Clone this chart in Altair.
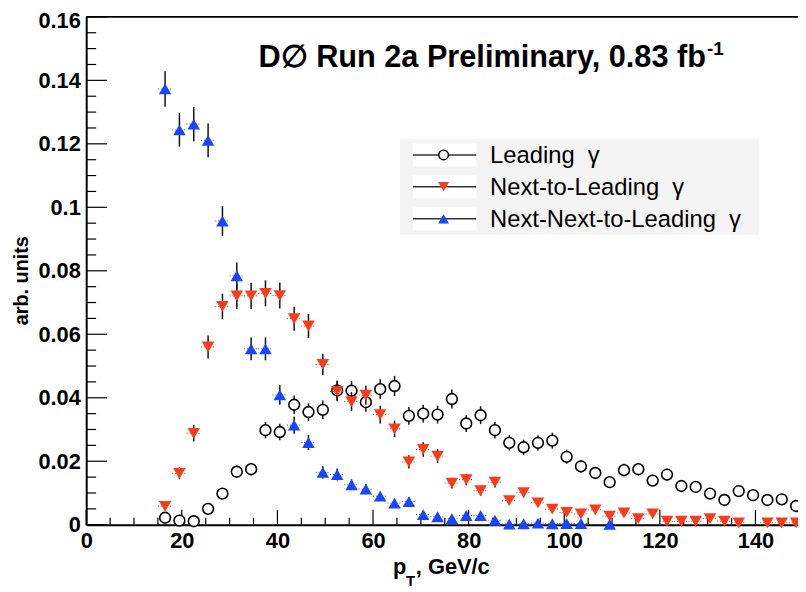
import altair as alt
import pandas as pd

# ---------------- data ----------------
pt = [16.5, 19.5, 22.5, 25.5, 28.5, 31.5, 34.5, 37.5, 40.5, 43.5, 46.5, 49.5,
      52.5, 55.5, 58.5, 61.5, 64.5, 67.5, 70.5, 73.5, 76.5, 79.5, 82.5, 85.5,
      88.5, 91.5, 94.5, 97.5, 100.5, 103.5, 106.5, 109.5, 112.5, 115.5, 118.5,
      121.5, 124.5, 127.5, 130.5, 133.5, 136.5, 139.5, 142.5, 145.5, 148.5]

lead = [0.0022, 0.0013, 0.0011, 0.0050, 0.0098, 0.0167, 0.0175, 0.0298, 0.0292,
        0.0378, 0.0355, 0.0362, 0.0423, 0.0422, 0.0386, 0.0427, 0.0437, 0.0343,
        0.0350, 0.0347, 0.0396, 0.0319, 0.0345, 0.0298, 0.0258, 0.0244, 0.0258,
        0.0265, 0.0214, 0.0184, 0.0163, 0.0134, 0.0172, 0.0175, 0.0139, 0.0158,
        0.0122, 0.0119, 0.0098, 0.0078, 0.0106, 0.0093, 0.0078, 0.0080, 0.0059]
lead_err = [0.0007, 0.0005, 0.0005, 0.0011, 0.0015, 0.0020, 0.0020, 0.0026, 0.0026,
            0.0029, 0.0028, 0.0029, 0.0031, 0.0031, 0.0030, 0.0031, 0.0032, 0.0028,
            0.0028, 0.0028, 0.0030, 0.0027, 0.0028, 0.0026, 0.0024, 0.0024, 0.0024,
            0.0025, 0.0022, 0.0020, 0.0019, 0.0017, 0.0020, 0.0020, 0.0018, 0.0019,
            0.0017, 0.0016, 0.0015, 0.0013, 0.0016, 0.0015, 0.0013, 0.0014, 0.0012]

nl = [0.0058, 0.0162, 0.0288, 0.0560, 0.0688, 0.0721, 0.0721, 0.0729, 0.0722,
      0.0649, 0.0626, 0.0505, 0.0420, 0.0388, 0.0408, 0.0347, 0.0302, 0.0198,
      0.0237, 0.0216, 0.0131, 0.0142, 0.0107, 0.0134, 0.0076, 0.0101, 0.0069,
      0.0049, 0.0039, 0.0034, 0.0047, 0.0027, 0.0037, 0.0019, 0.0034, 0.0011,
      0.0011, 0.0011, 0.0019, 0.0011, 0.0006, None, 0.0006, 0.0006, 0.0006]
nl_err = [0.0012, 0.0019, 0.0026, 0.0036, 0.0040, 0.0041, 0.0041, 0.0041, 0.0041,
          0.0038, 0.0038, 0.0034, 0.0031, 0.0030, 0.0030, 0.0028, 0.0026, 0.0021,
          0.0023, 0.0022, 0.0017, 0.0018, 0.0016, 0.0017, 0.0013, 0.0015, 0.0013,
          0.0011, 0.0009, 0.0009, 0.0010, 0.0008, 0.0009, 0.0007, 0.0009, 0.0005,
          0.0005, 0.0005, 0.0007, 0.0005, 0.0004, None, 0.0004, 0.0004, 0.0004]

nnl = [0.1373, 0.1244, 0.1262, 0.1211, 0.0957, 0.0784, 0.0554, 0.0554, 0.0409,
       0.0314, 0.0259, 0.0165, 0.0158, 0.0126, 0.0112, 0.0090, 0.0068, 0.0073,
       0.0032, 0.0025, 0.0019, 0.0029, 0.0029, 0.0014, 0.0002, 0.0003, 0.0005,
       0.0003, 0.0004, 0.0004, None, 0.0001]
nnl_err = [0.0056, 0.0053, 0.0054, 0.0053, 0.0047, 0.0042, 0.0036, 0.0036, 0.0031,
           0.0027, 0.0024, 0.0019, 0.0019, 0.0017, 0.0016, 0.0014, 0.0012, 0.0013,
           0.0009, 0.0008, 0.0007, 0.0008, 0.0008, 0.0006, 0.0002, 0.0003, 0.0003,
           0.0003, 0.0003, 0.0003, None, 0.0002]

series_names = ["Leading", "Next-to-Leading", "Next-Next-to-Leading"]
gamma = "\u00a0\u00a0γ"
title_main = "D∅ Run 2a Preliminary, 0.83 fb"
title_sup = "-1"
x_major = [0, 20, 40, 60, 80, 100, 120, 140]
x_minor = [5, 10, 15, 25, 30, 35, 45, 50, 55, 65, 70, 75, 85, 90, 95, 105, 110,
           115, 125, 130, 135, 145]
y_major = [0, 0.02, 0.04, 0.06, 0.08, 0.1, 0.12, 0.14, 0.16]
y_minor = [0.005, 0.01, 0.015, 0.025, 0.03, 0.035, 0.045, 0.05, 0.055, 0.065,
           0.07, 0.075, 0.085, 0.09, 0.095, 0.105, 0.11, 0.115, 0.125, 0.13,
           0.135, 0.145, 0.15, 0.155]

BIN_HALF = 1.5

# ---------------- styling ----------------
FONT = "Liberation Sans"
W, H = 719, 513
X_MAX = 148.9
RED = "#ff3a17"
BLUE = "#1646ff"


def frame(vals, errs):
    rows = []
    for x, v, e in zip(pt, vals, errs):
        if v is None:
            continue
        rows.append({"pt": x, "val": v, "lo": v - e, "hi": v + e,
                     "xlo": x - BIN_HALF, "xhi": x + BIN_HALF})
    return pd.DataFrame(rows)


df_lead = frame(lead, lead_err)
df_nl = frame(nl, nl_err)
df_nnl = frame(nnl, nnl_err)

xscale = alt.Scale(domain=[0, X_MAX], nice=False, zero=False)
yscale = alt.Scale(domain=[0, 0.16], nice=False, zero=False)

xaxis = alt.Axis(values=x_major, format="d", title=None, grid=False, ticks=False,
                 tickSize=0, labelFont=FONT, labelFontWeight="bold", labelFontSize=22,
                 labelColor="black", labelPadding=6, domainColor="black",
                 domainWidth=2, labelFlush=False)
yaxis = alt.Axis(values=y_major, format="~g", title="arb. units", grid=False,
                 ticks=False, tickSize=0, labelFont=FONT, labelFontWeight="bold",
                 labelFontSize=22, labelColor="black", labelPadding=6,
                 labelOffset={"condition": {"test": "datum.value >= 0.159", "value": 4},
                              "value": 0},
                 domainColor="black", domainWidth=2, labelFlush=False,
                 titleFont=FONT, titleFontWeight="bold", titleFontSize=20,
                 titleColor="black", titleX=-65, titleY=266,
                 titleAlign="center", titleBaseline="middle", titleAngle=-90)


def X(field):
    return alt.X(f"{field}:Q", scale=xscale, axis=xaxis)


def Y(field):
    return alt.Y(f"{field}:Q", scale=yscale, axis=yaxis)


layers = []

# inward ticks (axis decoration)
layers.append(alt.Chart(pd.DataFrame({"v": x_major})).mark_rule(color="black", strokeWidth=1.2)
              .encode(x=X("v"), y=alt.value(H), y2=alt.value(H - 15)))
layers.append(alt.Chart(pd.DataFrame({"v": x_minor})).mark_rule(color="black", strokeWidth=1.2)
              .encode(x=X("v"), y=alt.value(H), y2=alt.value(H - 7)))
layers.append(alt.Chart(pd.DataFrame({"v": y_major})).mark_rule(color="black", strokeWidth=1.2)
              .encode(y=Y("v"), x=alt.value(0), x2=alt.value(21)))
layers.append(alt.Chart(pd.DataFrame({"v": y_minor})).mark_rule(color="black", strokeWidth=1.2)
              .encode(y=Y("v"), x=alt.value(0), x2=alt.value(10)))
# top frame line
layers.append(alt.Chart(pd.DataFrame({"v": [0.16]})).mark_rule(color="black", strokeWidth=2)
              .encode(y=Y("v"), x=alt.value(0), x2=alt.value(W)))


def series_layers(df, shape, color, filled):
    out = []
    if filled:
        out.append(alt.Chart(df).mark_rule(color="#555", strokeWidth=1, strokeDash=[1, 2])
                   .encode(x=X("xlo"), x2="xhi:Q", y=Y("val")))
    out.append(alt.Chart(df).mark_rule(color="#111", strokeWidth=1.5)
               .encode(x=X("pt"), y=Y("lo"), y2="hi:Q"))
    if filled:
        out.append(alt.Chart(df).mark_point(shape=shape, filled=True, fill=color,
                                            strokeWidth=0, size=160, opacity=1)
                   .encode(x=X("pt"), y=Y("val")))
    else:
        out.append(alt.Chart(df).mark_point(shape=shape, filled=False, fill="white",
                                            fillOpacity=1, stroke="black",
                                            strokeWidth=1.6, size=118, opacity=1)
                   .encode(x=X("pt"), y=Y("val")))
    return out


layers += series_layers(df_lead, "circle", "black", False)
layers += series_layers(df_nl, "triangle-down", RED, True)
layers += series_layers(df_nnl, "triangle-up", BLUE, True)

# ---------------- legend ----------------
LX0, LX1, LY0, LY1 = 317, 680, 123, 220
layers.append(alt.Chart(pd.DataFrame({"v": [0]})).mark_rect(fill="#f4f4f4")
              .encode(x=alt.value(LX0), x2=alt.value(LX1), y=alt.value(LY0), y2=alt.value(LY1)))
row_y = [139.5, 171.5, 204]
shapes = [("circle", "black", False), ("triangle-down", RED, True), ("triangle-up", BLUE, True)]
for name, ry, (shp, col, fil) in zip(series_names, row_y, shapes):
    one = pd.DataFrame({"label": [name + gamma]})
    layers.append(alt.Chart(one).mark_rect(fill="white")
                  .encode(x=alt.value(330), x2=alt.value(394), y=alt.value(ry - 11.5),
                          y2=alt.value(ry + 11.5)))
    layers.append(alt.Chart(one).mark_rule(color="#333", strokeWidth=1.5)
                  .encode(x=alt.value(330), x2=alt.value(394), y=alt.value(ry)))
    if fil:
        layers.append(alt.Chart(one).mark_point(shape=shp, filled=True, fill=col, strokeWidth=0,
                                                size=120, opacity=1)
                      .encode(x=alt.value(361), y=alt.value(ry)))
    else:
        layers.append(alt.Chart(one).mark_point(shape=shp, filled=False, fill="white",
                                                fillOpacity=1, stroke="black", strokeWidth=1.4,
                                                size=95, opacity=1)
                      .encode(x=alt.value(361), y=alt.value(ry)))
    layers.append(alt.Chart(one).mark_text(font=FONT, fontSize=24, align="left",
                                           baseline="middle", color="black")
                  .encode(x=alt.value(408), y=alt.value(ry + 1), text="label:N"))

# ---------------- title text ----------------
layers.append(alt.Chart(pd.DataFrame({"t": [title_main]}))
              .mark_text(font=FONT, fontSize=31, fontWeight="bold", align="right",
                         baseline="alphabetic", color="black")
              .encode(x=alt.value(626), y=alt.value(51), text="t:N"))
layers.append(alt.Chart(pd.DataFrame({"t": [title_sup]}))
              .mark_text(font=FONT, fontSize=19, fontWeight="bold", align="left",
                         baseline="alphabetic", color="black")
              .encode(x=alt.value(627), y=alt.value(39), text="t:N"))

# ---------------- x axis title p_T, GeV/c ----------------
xt_parts = ["p", "T", ", GeV/c"]
layers.append(alt.Chart(pd.DataFrame({"t": [xt_parts[0]]}))
              .mark_text(font=FONT, fontSize=22, fontWeight="bold", align="left",
                         baseline="alphabetic", color="black")
              .encode(x=alt.value(310), y=alt.value(563), text="t:N"))
layers.append(alt.Chart(pd.DataFrame({"t": [xt_parts[1]]}))
              .mark_text(font=FONT, fontSize=15, fontWeight="bold", align="left",
                         baseline="alphabetic", color="black")
              .encode(x=alt.value(323), y=alt.value(575), text="t:N"))
layers.append(alt.Chart(pd.DataFrame({"t": [xt_parts[2]]}))
              .mark_text(font=FONT, fontSize=22, fontWeight="bold", align="left",
                         baseline="alphabetic", color="black")
              .encode(x=alt.value(333), y=alt.value(563), text="t:N"))

chart = alt.layer(*layers).properties(
    width=W, height=H,
    autosize=alt.AutoSizeParams(type="none"),
    padding={"left": 79, "top": 6, "right": 0, "bottom": 65},
    background="white",
).configure_view(stroke=None)

chart.save("out.html", embed_options={"renderer": "svg", "actions": False})
